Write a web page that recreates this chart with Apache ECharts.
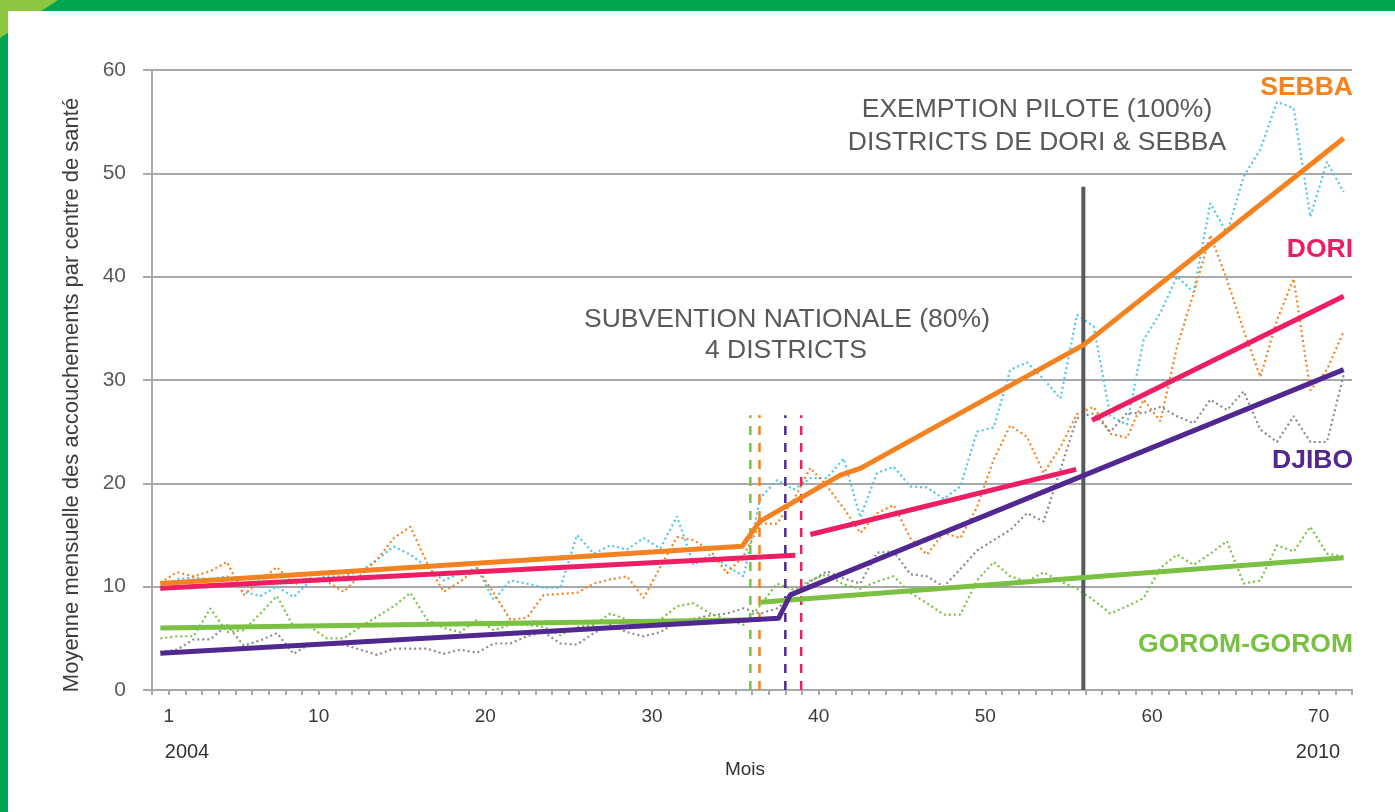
<!DOCTYPE html>
<html><head><meta charset="utf-8">
<script src="https://cdn.jsdelivr.net/npm/echarts@6/dist/echarts.min.js"></script>
<style>html,body{margin:0;padding:0;background:#fff}#c{width:1395px;height:812px}</style>
</head><body><div id="c"></div>
<script>
// months 1..72
const months = Array.from({length:72},(_,i)=>i+1);
const xTickLabels = [1,10,20,30,40,50,60,70];
const yTicks = [0,10,20,30,40,50,60];

// monthly dotted series
const cyanSeries = [9.7,10.7,10.9,10.7,11.0,9.5,9.1,10.0,9.0,10.6,11.0,11.0,11.5,12.6,13.9,13.1,11.9,10.6,11.3,11.8,
  8.7,10.6,10.3,9.9,9.9,15.0,13.2,14.0,13.6,14.7,13.7,16.8,12.1,13.1,12.0,11.0,18.6,20.3,19.4,20.5,
  20.5,22.4,16.7,21.0,21.6,19.7,19.6,18.5,19.7,25.0,25.4,31.0,31.7,30.1,28.2,36.3,35.2,26.5,25.7,33.9,
  36.5,40.0,38.5,47.1,44.2,49.7,52.3,56.9,56.3,45.8,51.1,48.2];
const orangeSeries = [10.4,11.4,11.0,11.5,12.4,9.2,10.6,11.9,10.2,10.8,10.5,9.5,11.1,12.6,14.7,15.8,12.3,9.5,10.5,11.8,
  9.4,6.8,7.0,9.2,9.3,9.4,10.3,10.7,11.0,8.9,11.9,14.8,14.5,13.5,11.3,13.0,16.1,16.1,18.4,21.5,
  19.7,17.6,15.2,17.1,17.9,14.7,13.1,15.2,14.7,17.7,22.3,25.6,24.5,21.0,23.5,26.7,27.4,24.8,24.4,28.1,
  26.0,33.2,38.4,44.0,39.7,34.8,30.3,35.8,39.8,29.0,31.0,34.7];
const graySeries = [3.7,3.9,4.9,4.9,6.3,4.3,4.8,5.5,3.5,4.5,4.5,4.4,3.9,3.4,4.0,4.0,4.0,3.5,3.9,3.6,
  4.5,4.5,5.2,5.6,4.5,4.4,5.5,6.3,5.6,5.2,5.6,6.6,6.9,7.2,7.4,7.9,7.4,7.9,9.2,10.5,
  11.5,10.8,10.3,13.3,13.4,11.2,11.0,10.0,11.7,13.5,14.5,15.5,17.1,16.3,21.3,26.3,26.8,25.0,26.8,26.8,
  27.4,26.5,25.8,28.1,27.1,28.9,25.2,24.0,26.5,24.0,24.0,30.5];
const greenSeries = [5.0,5.2,5.2,7.9,5.6,5.8,7.4,9.1,6.1,6.1,5.0,5.0,6.1,7.1,8.1,9.4,6.8,6.0,5.6,6.8,
  5.8,6.3,6.3,6.1,5.3,6.1,6.3,7.4,6.8,6.6,6.8,8.1,8.4,7.4,6.8,6.3,8.2,10.3,9.7,10.6,
  11.2,10.2,9.8,10.5,11.0,9.4,8.4,7.3,7.3,10.6,12.4,11.0,10.5,11.4,10.5,9.8,8.7,7.4,8.1,8.9,
  11.8,13.1,12.1,13.2,14.4,10.3,10.6,14.0,13.4,15.8,13.2,12.9];

// trend segments [x, y] in axis units
const sebbaTrend = [[0.5,10.3],[35.4,13.9],[36.45,16.3],[41.3,20.8],[42.5,21.45],[55.9,33.4],[71.5,53.4]];
const doriTrend1 = [[0.5,9.85],[38.6,13.05]];
const doriTrend2 = [[39.5,15.05],[55.45,21.35]];
const doriTrend3 = [[56.4,26.1],[71.5,38.1]];
const djiboTrend = [[0.5,3.55],[37.6,6.95],[38.3,9.2],[71.5,31.0]];
const goromTrend1 = [[0.5,6.0],[35.6,6.77]];
const goromTrend2 = [[36.5,8.5],[71.5,12.8]];

// intervention markers
const startLines = [{x:35.9,c:'#7ac143'},{x:36.45,c:'#f58220'},{x:38.0,c:'#51288f'},{x:38.95,c:'#ed1e62'}];
const startTop = 26.6;
const exemptionX = 55.88, exemptionTop = 48.7;

const C = {cyan:'#4cc6ec', orange:'#f58220', gray:'#8a8b8d', green:'#7ac143', pink:'#ed1e62', purple:'#51288f'};
const FONT = '"Liberation Sans", Arial, sans-serif';

const toXY = arr => arr.map((v,i)=>[months[i]-0.5, v]);
const dotted = (name, arr, color) => ({type:'line', name, data:toXY(arr), symbol:'none', z:2,
  lineStyle:{color, width:2.2, type:[2,3]}, silent:true});
const trend = (data, color) => ({type:'line', data, symbol:'none', z:4,
  lineStyle:{color, width:5, cap:'butt', join:'round'}, silent:true});

const series = [
  dotted('cyan', cyanSeries, C.cyan),
  dotted('orange', orangeSeries, C.orange),
  dotted('gray', graySeries, C.gray),
  dotted('green', greenSeries, C.green),
  {type:'line', data:[[exemptionX,0],[exemptionX,exemptionTop]], symbol:'none', z:3,
    lineStyle:{color:'#58595b', width:4}, silent:true},
  ...startLines.map(s=>({type:'line', data:[[s.x,0],[s.x,startTop]], symbol:'none', z:3,
    lineStyle:{color:s.c, width:2.5, type:[9,8]}, silent:true})),
  trend(goromTrend1, C.green), trend(goromTrend2, C.green),
  trend(djiboTrend, C.purple),
  trend(doriTrend1, C.pink), trend(doriTrend2, C.pink), trend(doriTrend3, C.pink),
  trend(sebbaTrend, C.orange)
];

const chart = echarts.init(document.getElementById('c'), null, {renderer:'canvas'});
const txt = (x,y,text,opt={},extra={}) => Object.assign({type:'text', x, y, z:100, silent:true,
  style:Object.assign({text, fill:'#58595b', font:'26.5px '+FONT, textAlign:'center', textVerticalAlign:'middle'}, opt)}, extra);

chart.setOption({
  animation:false,
  grid:{left:152, right:43, top:70, bottom:122},
  xAxis:{type:'value', min:0, max:72, interval:1,
    axisLine:{show:true, lineStyle:{color:'#a7a9ac', width:2}},
    axisTick:{show:true, length:5, lineStyle:{color:'#a7a9ac', width:2}},
    splitLine:{show:false},
    axisLabel:{margin:17, fontFamily:FONT, fontSize:19, color:'#3a3a3a',
      formatter:v=>xTickLabels.includes(v)?String(v):''}},
  yAxis:{type:'value', min:yTicks[0], max:yTicks[yTicks.length-1], interval:10,
    axisLine:{show:true, lineStyle:{color:'#a7a9ac', width:2}},
    axisTick:{show:true, length:9, lineStyle:{color:'#a7a9ac', width:2}},
    splitLine:{show:true, lineStyle:{color:'#a7a9ac', width:2}},
    axisLabel:{margin:26, fontFamily:FONT, fontSize:21, color:'#58595b'}},
  series,
  graphic:[
    {type:'rect', shape:{x:0,y:0,width:1395,height:812}, style:{fill:'#00a651'}, z:-10, silent:true},
    {type:'polygon', shape:{points:[[0,0],[58,0],[0,38]]}, style:{fill:'#8dc63f'}, z:-9, silent:true},
    {type:'rect', shape:{x:8,y:11,width:1387,height:801}, style:{fill:'#ffffff'}, z:-8, silent:true},
    txt(72,395,'Moyenne mensuelle des accouchements par centre de santé',{fill:'#3c3c3c', font:'22px '+FONT},{rotation:Math.PI/2}),
    txt(1037,110,'EXEMPTION PILOTE (100%)'),
    txt(1037,143,'DISTRICTS DE DORI & SEBBA'),
    txt(787,320,'SUBVENTION NATIONALE (80%)'),
    txt(786,351,'4 DISTRICTS'),
    txt(1353,88,'SEBBA',{fill:C.orange, font:'bold 26.5px '+FONT, textAlign:'right'}),
    txt(1353,250,'DORI',{fill:C.pink, font:'bold 26.5px '+FONT, textAlign:'right'}),
    txt(1353,461,'DJIBO',{fill:C.purple, font:'bold 26.5px '+FONT, textAlign:'right'}),
    txt(1353,645,'GOROM-GOROM',{fill:C.green, font:'bold 26.5px '+FONT, textAlign:'right'}),
    txt(187,752,'2004',{fill:'#333', font:'20px '+FONT}),
    txt(1318,752,'2010',{fill:'#333', font:'20px '+FONT}),
    txt(745,770,'Mois',{fill:'#333', font:'19px '+FONT})
  ]
});
</script></body></html>
